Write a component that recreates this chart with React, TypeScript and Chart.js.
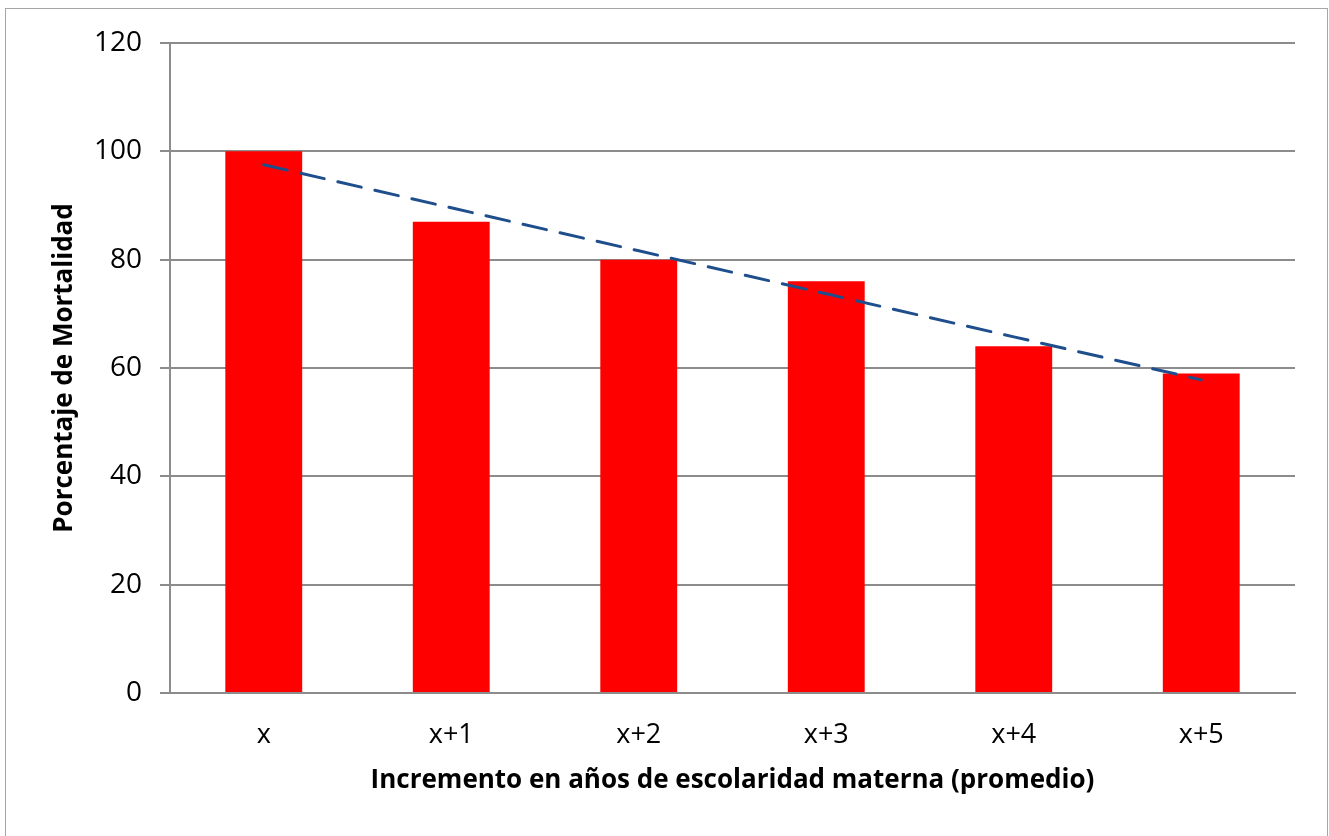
import React, { useEffect, useRef } from "react";
import { Chart, registerables } from "chart.js";

Chart.register(...registerables);

const categories = ["x", "x+1", "x+2", "x+3", "x+4", "x+5"];
const mortality = [100, 87, 80, 76, 64, 59];
const yTicks = [0, 20, 40, 60, 80, 100, 120];

const yTitle = "Porcentaje de Mortalidad";
const xTitle = "Incremento en años de escolaridad materna (promedio)";

// Least-squares linear trend over the bar values
function linearTrend(values: number[]): number[] {
  const n = values.length;
  const mx = (n - 1) / 2;
  const my = values.reduce((a, b) => a + b, 0) / n;
  let sxy = 0;
  let sxx = 0;
  values.forEach((v, i) => {
    sxy += (i - mx) * (v - my);
    sxx += (i - mx) * (i - mx);
  });
  const slope = sxy / sxx;
  return values.map((_, i) => my + slope * (i - mx));
}

const FONT = "'Open Sans', 'Noto Sans', sans-serif";
const GRID = "#8c8c8c";

export default function App() {
  const canvasRef = useRef<HTMLCanvasElement | null>(null);

  useEffect(() => {
    document.body.style.margin = "0";
    const canvas = canvasRef.current;
    if (!canvas) return;
    const chart = new Chart(canvas, {
      type: "bar",
      data: {
        labels: categories,
        datasets: [
          {
            type: "bar",
            data: mortality,
            backgroundColor: "#ff0000",
            borderWidth: 0,
            barPercentage: 0.41,
            categoryPercentage: 1,
            order: 2,
          },
          {
            type: "line",
            data: linearTrend(mortality),
            borderColor: "#1f4e8c",
            borderWidth: 3,
            borderDash: [24, 14],
            borderCapStyle: "round",
            pointRadius: 0,
            fill: false,
            order: 1,
          },
        ],
      },
      options: {
        responsive: false,
        animation: false,
        plugins: {
          legend: { display: false },
          tooltip: { enabled: false },
        },
        layout: { padding: { left: 40, top: 43, right: 34, bottom: 30 } },
        scales: {
          x: {
            grid: { display: false, drawTicks: false },
            border: { display: true, color: GRID, width: 2 },
            ticks: {
              color: "#000",
              font: { family: FONT, size: 27 },
              padding: 26,
            },
            title: {
              display: true,
              text: xTitle,
              color: "#000",
              font: { family: FONT, size: 26, weight: "bold" },
              padding: { top: 0, bottom: 10 },
            },
            afterFit: (scale: any) => {
              scale.height = 806 - 693;
            },
          },
          y: {
            min: 0,
            max: 120,
            afterBuildTicks: (scale: any) => {
              scale.ticks = yTicks.map((v) => ({ value: v }));
            },
            grid: {
              color: GRID,
              lineWidth: 2,
              tickLength: 10,
              tickColor: GRID,
            },
            border: { display: true, color: GRID, width: 2 },
            ticks: {
              color: "#000",
              font: { family: FONT, size: 28 },
              padding: 18,
            },
            title: {
              display: true,
              text: yTitle,
              color: "#000",
              font: { family: FONT, size: 26, weight: "bold" },
              padding: { top: 9, bottom: 0 },
            },
            afterFit: (scale: any) => {
              scale.width = 170 - 40;
            },
          },
        },
      },
    });
    return () => chart.destroy();
  }, []);

  return (
    <div style={{ position: "relative", width: 1329, height: 836, overflow: "hidden", background: "#fff" }}>
      <canvas ref={canvasRef} width={1329} height={836} style={{ position: "absolute", left: 0, top: 0 }} />
      <div
        style={{
          position: "absolute",
          left: 5,
          top: 8,
          width: 1321,
          height: 840,
          border: "1.5px solid #a6a6a6",
          pointerEvents: "none",
        }}
      />
    </div>
  );
}
